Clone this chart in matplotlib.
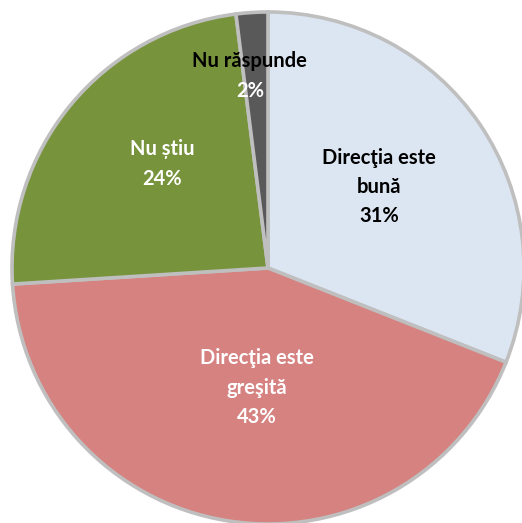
import matplotlib
matplotlib.use("Agg")
import matplotlib.pyplot as plt
import numpy as np

categories = ["Direcţia este\nbună", "Direcţia este\ngreşită", "Nu știu", "Nu răspunde"]
values = [31, 43, 24, 2]
colors = ["#DCE6F2", "#D58280", "#77933C", "#595959"]
name_colors = ["black", "white", "white", "black"]
pct_colors = ["black", "white", "white", "white"]
label_radius = [0.537, 0.47, 0.58, 0.753]
label_angle_shift = [1.9, 3.8, -4.9, 1.8]

plt.rcParams['font.family'] = ['Lato', 'DejaVu Sans']

fig = plt.figure(figsize=(5.22, 5.23), dpi=100)
ax = fig.add_axes([0, 0, 1, 1])
R = 256.0
cx, cy = 268.0, 268.0
W, H = 522.0, 523.0

wedges, _ = ax.pie(values, colors=colors, startangle=90, counterclock=False,
                   radius=1.0, center=(0, 0), frame=True,
                   wedgeprops=dict(edgecolor="#BFBFBF", linewidth=2.6))
ax.set_xlim(-cx / R, (W - cx) / R)
ax.set_ylim(-(H - cy) / R, cy / R)
ax.set_aspect('auto')
ax.axis('off')

fs = 14.5
lh = 0.115
for w, name, v, nc, pc, r, sh in zip(wedges, categories, values, name_colors,
                                       pct_colors, label_radius, label_angle_shift):
    ang = np.deg2rad((w.theta1 + w.theta2) / 2 + sh)
    x, y = r * np.cos(ang), r * np.sin(ang)
    nlines = name.count("\n") + 1
    total = nlines + 1
    top = y + (total - 1) * lh / 2
    for i, line in enumerate(name.split("\n")):
        ax.text(x, top - i * lh, line, ha="center", va="center",
                fontsize=fs, fontweight="bold", color=nc)
    ax.text(x, top - nlines * lh, f"{v}%", ha="center", va="center",
            fontsize=fs, fontweight="bold", color=pc)

fig.savefig("out.png", dpi=100)
